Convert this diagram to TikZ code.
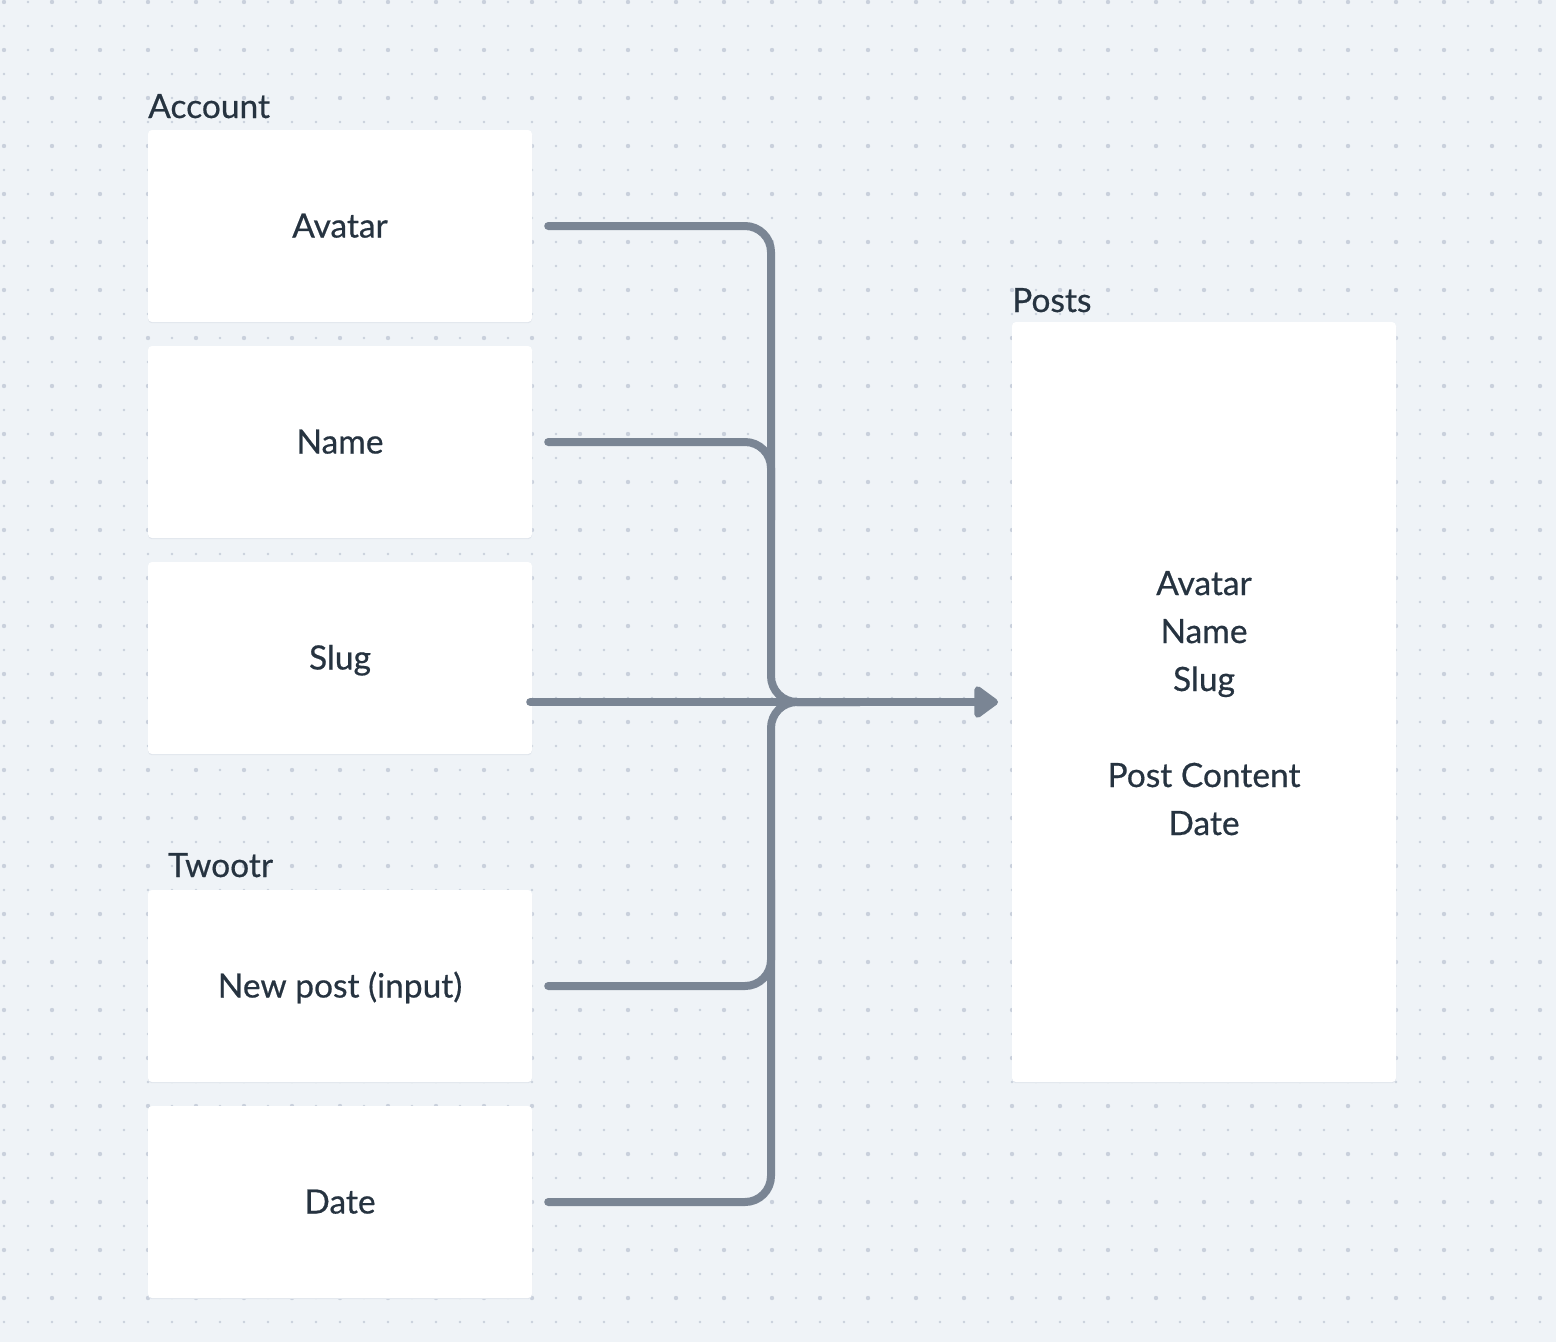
\documentclass[tikz,border=0pt]{standalone}
\usepackage{fontspec}
\setmainfont{Lato}
\newfontfamily\uifont{Lato}[FakeBold=0.5]
\usetikzlibrary{arrows.meta,calc}
\definecolor{bg}{HTML}{EFF3F7}
\definecolor{dotc}{HTML}{C9D0DC}
\definecolor{ink}{HTML}{263340}
\definecolor{wire}{HTML}{7A8594}
\definecolor{shadowc}{HTML}{E0E5EC}
\begin{document}
\begin{tikzpicture}[x=1pt,y=-1pt,
  card/.style={fill=white, rounded corners=4pt, minimum width=384pt, minimum height=192pt,
    inner sep=0pt, text=ink, font=\uifont\fontsize{33.5}{40}\selectfont, text height=27pt, text depth=4pt,
    preaction={fill=shadowc, transform canvas={yshift=-1.2pt}}},
  tallcard/.style={card, minimum height=760pt},
  lbl/.style={text=ink, font=\uifont\fontsize{33.5}{40}\selectfont, inner sep=0pt, anchor=base west},
  txt/.style={text=ink, font=\uifont\fontsize{33.5}{40}\selectfont, inner sep=0pt, anchor=base},
  wirepath/.style={draw=wire, line width=8pt, line cap=round, line join=round, rounded corners=26pt}
]
% background
\fill[bg] (0,0) rectangle (1556,1342);
\useasboundingbox (0,0) rectangle (1556,1342);
% dot grid
\foreach \i in {0,...,64}{\foreach \j in {0,...,55}{\fill[dotc] (4+24*\i,2+24*\j) circle[radius=1.3pt];}}
\foreach \i in {0,2,...,64}{\foreach \j in {0,2,...,54}{\fill[dotc] (4+24*\i,2+24*\j) circle[radius=2.2pt];}}

% cards
\node[card] (avatar) at (340,226) {Avatar};
\node[card] (name) at (340,442) {Name};
\node[card] (slug) at (340,658) {Slug};
\node[card] (newpost) at (340,986) {New post (input)};
\node[card] (date) at (340,1202) {Date};
\node[tallcard] (posts) at (1204,702) {};

% labels
\node[lbl] (acclbl) at (148,118) {Account};
\node[lbl] (postslbl) at (1012,312) {Posts};
\node[lbl] (twlbl) at (168,877) {Twootr};

% posts content
\node[txt] (p1) at (1204,595) {Avatar};
\node[txt] (p2) at (1204,643) {Name};
\node[txt] (p3) at (1204,691) {Slug};
\node[txt] (p4) at (1204,787) {Post Content};
\node[txt] (p5) at (1204,835) {Date};

% connectors
\coordinate (bus) at (771,702);
\coordinate (busA) at (771,520);
\coordinate (busB) at (771,880);
\coordinate (merge) at (860,702);
\coordinate (tip) at (998,702);
\draw[wirepath] ([xshift=16pt]avatar.east) -| (bus) -- (merge);
\draw[wirepath] ([xshift=16pt]date.east) -| (bus) -- (merge);
\draw[wirepath] ([xshift=16pt]name.east) -| (busA);
\draw[wirepath] ([xshift=16pt]newpost.east) -| (busB);
\draw[wirepath, -{Triangle[length=26pt 0 0,width=36pt 0 0,round]}] ([xshift=-2pt]slug.east |- tip) -- (tip);
\end{tikzpicture}
\end{document}
